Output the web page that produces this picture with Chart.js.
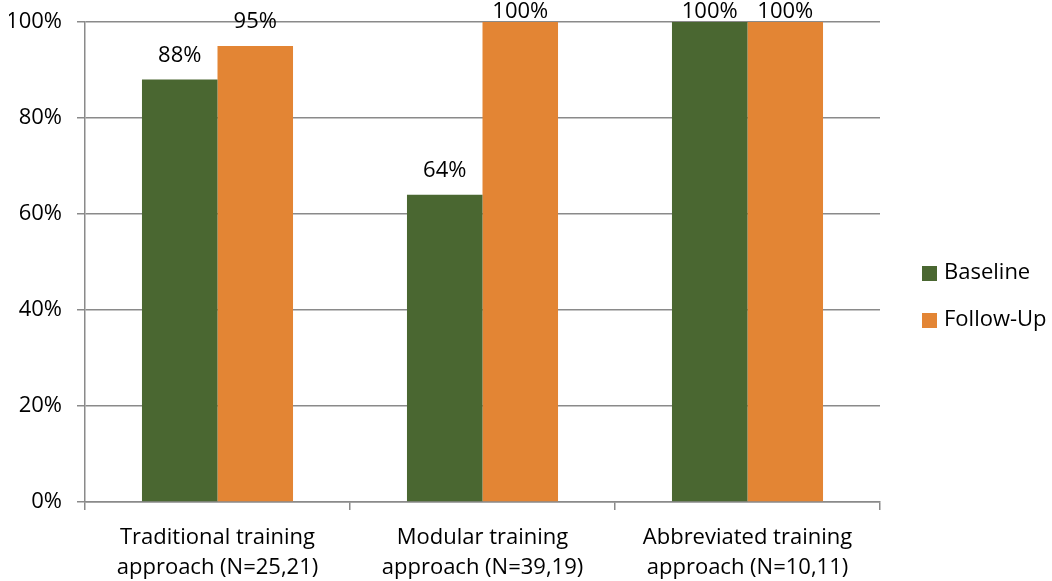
<!DOCTYPE html>
<html>
<head>
<meta charset="utf-8">
<script src="https://cdn.jsdelivr.net/npm/chart.js@4"></script>
<style>
  html, body { margin: 0; padding: 0; background: #fff; }
  #wrap { width: 1052px; height: 581px; }
</style>
</head>
<body>
<div id="wrap"><canvas id="trainingChart"></canvas></div>
<script>
var categories = [
    ['Traditional training', 'approach (N=25,21)'],
    ['Modular training', 'approach (N=39,19)'],
    ['Abbreviated training', 'approach (N=10,11)']
];
var baseline = [88, 64, 100];
var followUp = [95, 100, 100];

var FONT = '"Open Sans", "Noto Sans", sans-serif';
var FONT_SIZE = 22;
var AXIS_COLOR = '#8a8a8a';

// value labels above each bar, kept inside the canvas for full bars
var barLabels = {
    id: 'barLabels',
    afterDatasetsDraw: function (chart) {
        var ctx = chart.ctx;
        ctx.save();
        ctx.font = FONT_SIZE + 'px ' + FONT;
        ctx.fillStyle = '#000';
        ctx.textAlign = 'center';
        ctx.textBaseline = 'middle';
        chart.data.datasets.forEach(function (ds, i) {
            chart.getDatasetMeta(i).data.forEach(function (bar, j) {
                var y = Math.max(bar.y - 24, 12);
                ctx.fillText(ds.data[j] + '%', bar.x, y);
            });
        });
        ctx.restore();
    }
};

// legend drawn in the right margin, squares plus series names
var sideLegend = {
    id: 'sideLegend',
    afterDraw: function (chart) {
        var ctx = chart.ctx;
        var x = chart.chartArea.right + 42;
        var y = 273;
        ctx.save();
        ctx.font = FONT_SIZE + 'px ' + FONT;
        ctx.textBaseline = 'middle';
        ctx.textAlign = 'left';
        chart.data.datasets.forEach(function (ds) {
            ctx.fillStyle = ds.backgroundColor;
            ctx.fillRect(x, y - 7, 15, 15);
            ctx.fillStyle = '#000';
            ctx.fillText(ds.label, x + 22, y);
            y += 47;
        });
        ctx.restore();
    }
};

var ctx = document.getElementById('trainingChart').getContext('2d');
var trainingChart = new Chart(ctx, {
    type: 'bar',
    data: {
        labels: categories,
        datasets: [{
            label: 'Baseline',
            data: baseline,
            backgroundColor: '#4a6731',
            categoryPercentage: 0.57,
            barPercentage: 1
        }, {
            label: 'Follow-Up',
            data: followUp,
            backgroundColor: '#e38534',
            categoryPercentage: 0.57,
            barPercentage: 1
        }]
    },
    options: {
        responsive: true,
        maintainAspectRatio: false,
        animation: false,
        scales: {
            x: {
                afterFit: function (scale) { scale.height = 79; },
                grid: {
                    display: true,
                    drawOnChartArea: false,
                    drawTicks: true,
                    tickLength: 8,
                    lineWidth: 1.5,
                    color: AXIS_COLOR
                },
                border: { color: AXIS_COLOR, width: 1.5 },
                ticks: {
                    color: '#000',
                    font: { family: FONT, size: FONT_SIZE, lineHeight: 1.36 },
                    padding: 13,
                    maxRotation: 0
                }
            },
            y: {
                min: 0,
                max: 100,
                afterFit: function (scale) {
                    scale.width = 76;
                    scale.paddingTop = 0;
                },
                grid: {
                    color: AXIS_COLOR,
                    lineWidth: 1.5,
                    tickLength: 8
                },
                border: { color: AXIS_COLOR, width: 1.5 },
                ticks: {
                    stepSize: 20,
                    color: '#000',
                    padding: 15,
                    font: { family: FONT, size: FONT_SIZE },
                    callback: function (v) { return v + '%'; }
                }
            }
        },
        plugins: {
            legend: { display: false },
            tooltip: { enabled: false }
        },
        layout: {
            padding: { left: 9, right: 172, top: 22, bottom: 0 }
        }
    },
    plugins: [barLabels, sideLegend]
});
</script>
</body>
</html>
